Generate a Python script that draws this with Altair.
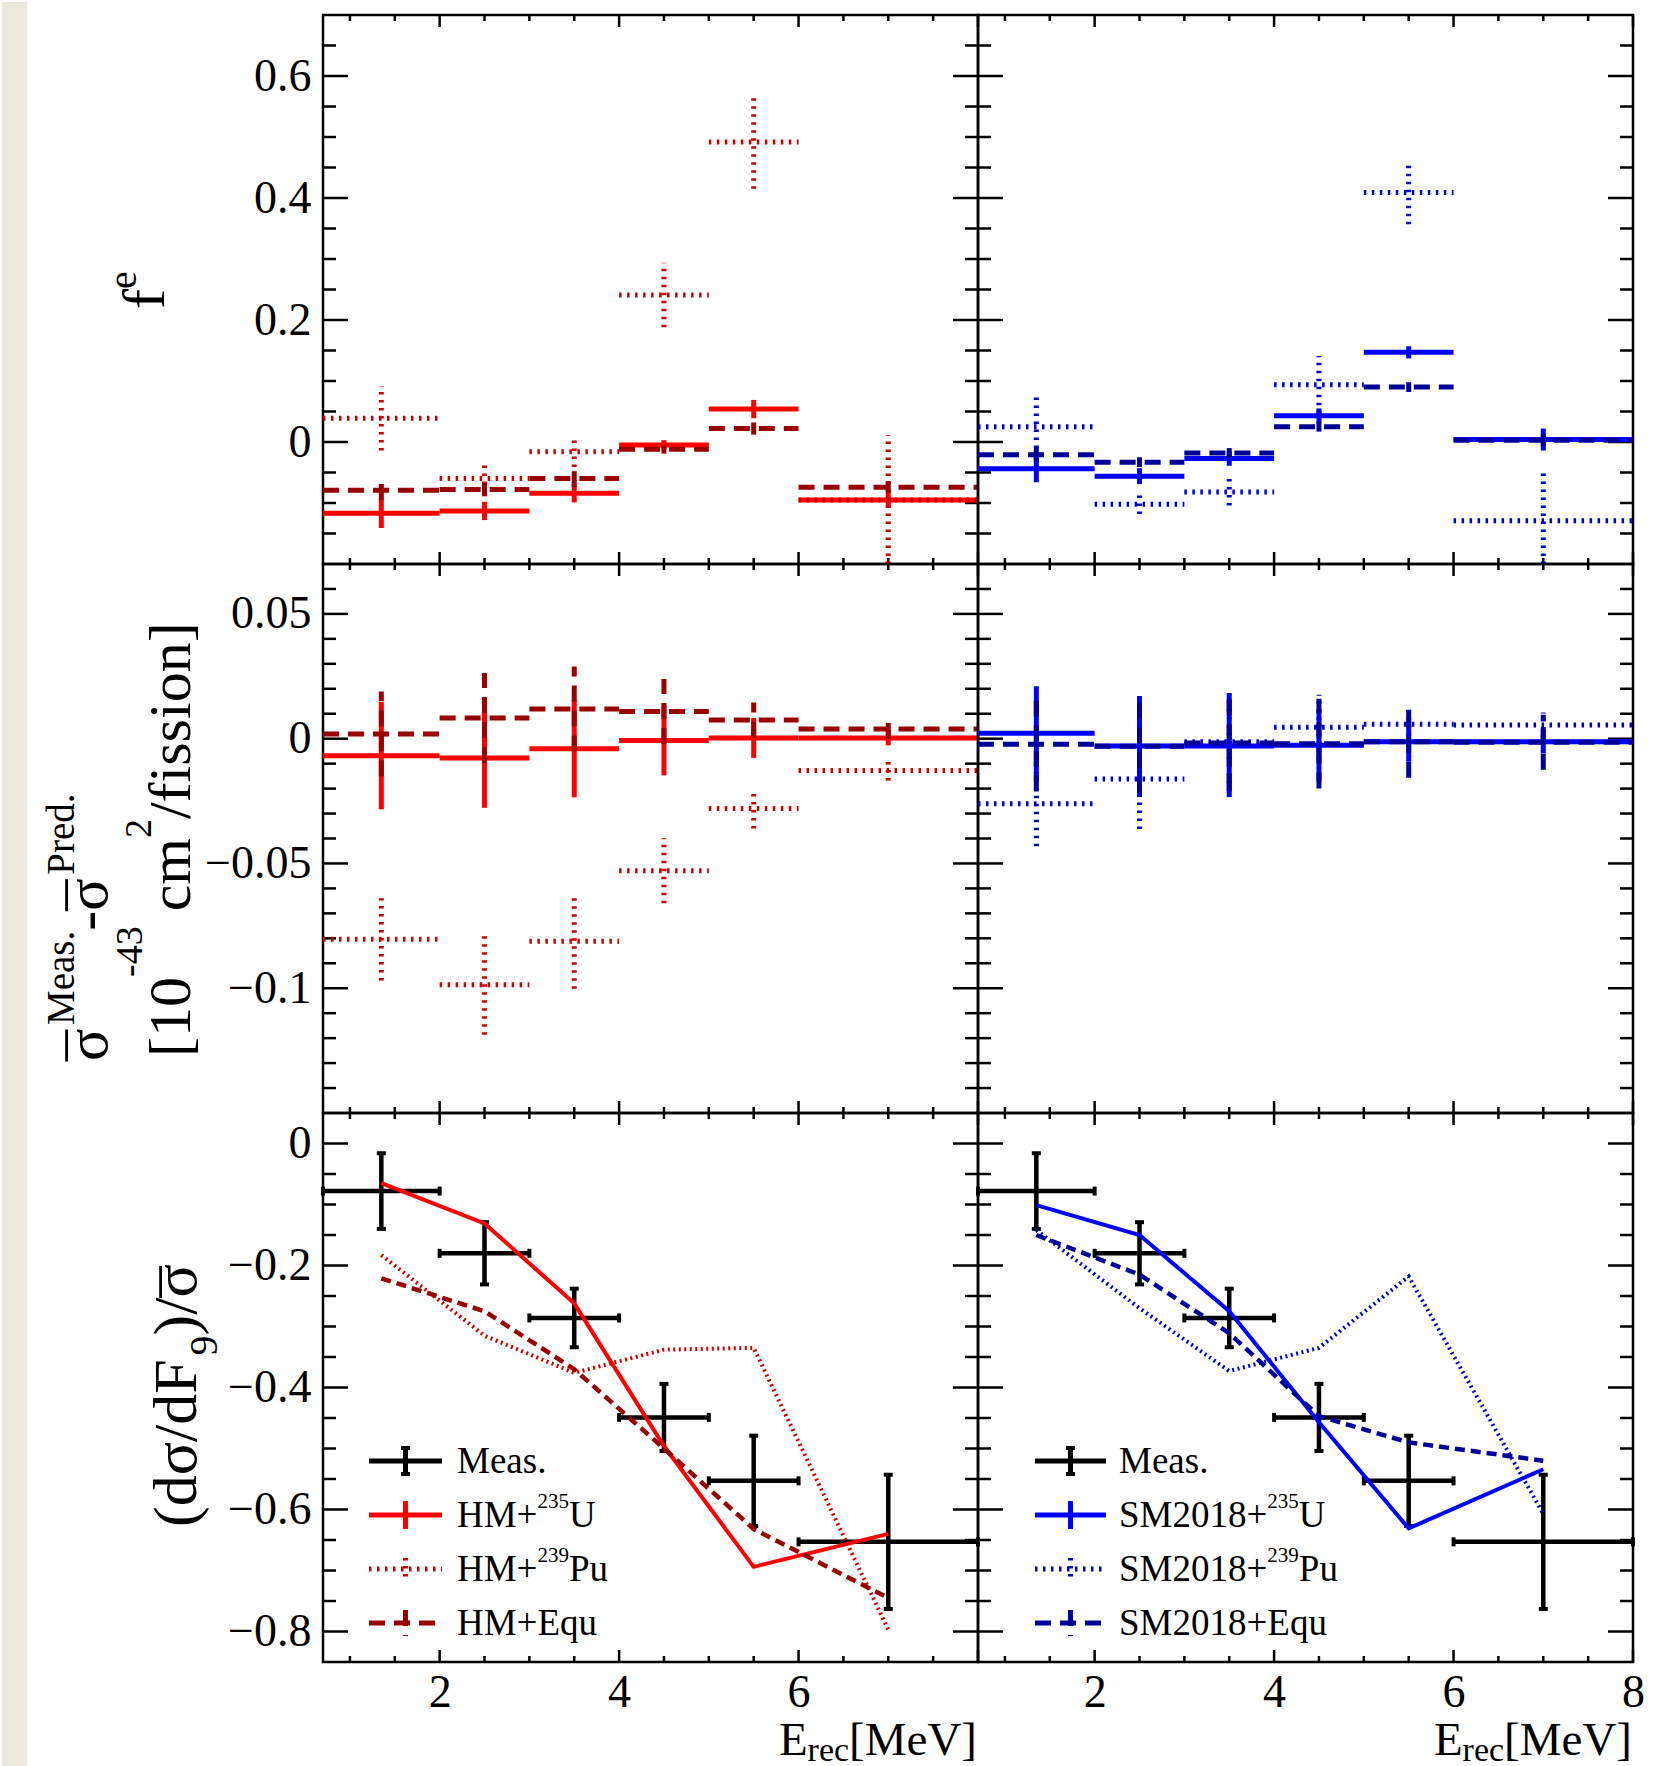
import altair as alt
import pandas as pd

FONT = "Liberation Serif"
W, H = 655, 549

# ---------------- data ----------------
BIN_LO = [0.7, 2.0, 3.0, 4.0, 5.0, 6.0]
BIN_HI = [2.0, 3.0, 4.0, 5.0, 6.0, 8.0]
BIN_C = [1.35, 2.5, 3.5, 4.5, 5.5, 7.0]

# top row: f^e
FE_HM_U = [-0.117, -0.113, -0.084, -0.005, 0.054, -0.095]
FE_HM_U_ERR = [0.024, 0.015, 0.015, 0.008, 0.015, 0.012]
FE_HM_PU = [0.039, -0.060, -0.016, 0.241, 0.492, -0.095]
FE_HM_PU_ERR = [0.053, 0.022, 0.025, 0.053, 0.077, 0.106]
FE_HM_EQU = [-0.079, -0.078, -0.060, -0.012, 0.022, -0.074]
FE_HM_EQU_ERR = [0.016, 0.011, 0.014, 0.007, 0.010, 0.010]

FE_SM_U = [-0.044, -0.056, -0.027, 0.043, 0.147, 0.004]
FE_SM_U_ERR = [0.022, 0.013, 0.012, 0.012, 0.010, 0.018]
FE_SM_PU = [0.025, -0.102, -0.082, 0.094, 0.409, -0.129]
FE_SM_PU_ERR = [0.048, 0.016, 0.022, 0.047, 0.052, 0.081]
FE_SM_EQU = [-0.021, -0.033, -0.018, 0.025, 0.090, 0.003]
FE_SM_EQU_ERR = [0.012, 0.008, 0.008, 0.008, 0.008, 0.010]

# middle row: sigma_meas - sigma_pred
DS_HM_U = [-0.0068, -0.0077, -0.0040, -0.0007, 0.0003, 0.0003]
DS_HM_U_ERR = [0.0215, 0.0200, 0.0195, 0.0140, 0.0080, 0.0030]
DS_HM_PU = [-0.0804, -0.0986, -0.0812, -0.0529, -0.0280, -0.0128]
DS_HM_PU_ERR = [0.0165, 0.0200, 0.0190, 0.0130, 0.0080, 0.0040]
DS_HM_EQU = [0.0019, 0.0083, 0.0119, 0.0109, 0.0075, 0.0039]
DS_HM_EQU_ERR = [0.0170, 0.0180, 0.0170, 0.0130, 0.0070, 0.0040]

DS_SM_U = [0.0022, -0.0029, -0.0029, -0.0026, -0.0012, -0.0012]
DS_SM_U_ERR = [0.0188, 0.0200, 0.0205, 0.0145, 0.0080, 0.0047]
DS_SM_PU = [-0.0261, -0.0162, -0.0012, 0.0046, 0.0058, 0.0055]
DS_SM_PU_ERR = [0.0170, 0.0200, 0.0200, 0.0130, 0.0080, 0.0050]
DS_SM_EQU = [-0.0022, -0.0030, -0.0017, -0.0020, -0.0012, -0.0014]
DS_SM_EQU_ERR = [0.0190, 0.0190, 0.0190, 0.0180, 0.0145, 0.0110]

# bottom row: (dsigma/dF9)/sigma
MEAS = [-0.078, -0.180, -0.286, -0.449, -0.553, -0.653]
MEAS_ERR = [0.062, 0.051, 0.048, 0.055, 0.074, 0.110]
DF_HM_U = [-0.065, -0.131, -0.262, -0.496, -0.694, -0.640]
DF_HM_PU = [-0.183, -0.315, -0.376, -0.338, -0.335, -0.797]
DF_HM_EQU = [-0.221, -0.275, -0.370, -0.500, -0.632, -0.745]
DF_SM_U = [-0.101, -0.150, -0.275, -0.457, -0.631, -0.534]
DF_SM_PU = [-0.142, -0.270, -0.373, -0.335, -0.218, -0.607]
DF_SM_EQU = [-0.150, -0.215, -0.311, -0.447, -0.490, -0.520]

# axes
X_DOMAIN = [0.7, 8.0]
X_MAJOR = [2, 4, 6, 8]
X_MINOR = [1.0, 1.5, 2.5, 3.0, 3.5, 4.5, 5.0, 5.5, 6.5, 7.0, 7.5]

TOP_DOMAIN = [-0.2, 0.7]
TOP_MAJOR = [0.0, 0.2, 0.4, 0.6]
TOP_MINOR = [-0.15, -0.1, -0.05, 0.05, 0.1, 0.15, 0.25, 0.3, 0.35, 0.45, 0.5, 0.55, 0.65]
TOP_LABELS = [0.0, 0.2, 0.4, 0.6]

MID_DOMAIN = [-0.15, 0.07]
MID_MAJOR = [-0.1, -0.05, 0.0, 0.05]
MID_MINOR = [-0.14, -0.13, -0.12, -0.11, -0.09, -0.08, -0.07, -0.06, -0.04, -0.03,
             -0.02, -0.01, 0.01, 0.02, 0.03, 0.04, 0.06]
MID_LABELS = [-0.1, -0.05, 0.0, 0.05]

BOT_DOMAIN = [-0.85, 0.05]
BOT_MAJOR = [-0.8, -0.6, -0.4, -0.2, 0.0]
BOT_MINOR = [-0.75, -0.7, -0.65, -0.55, -0.5, -0.45, -0.35, -0.3, -0.25, -0.15, -0.1, -0.05]
BOT_LABELS = [-0.8, -0.6, -0.4, -0.2, 0.0]

X_LABELS_LEFT = [2, 4, 6]
X_LABELS_RIGHT = [2, 4, 6, 8]

LEG_HM = ["Meas.", "HM+", "HM+", "HM+Equ"]
LEG_SM = ["Meas.", "SM2018+", "SM2018+", "SM2018+Equ"]

# ---------------- styles ----------------
RED = {"U": "#ff0000", "Pu": "#cc0000", "Equ": "#990000"}
BLUE = {"U": "#0000ff", "Pu": "#0000cc", "Equ": "#000099"}
DASH = {"U": None, "Pu": [2.5, 5.5], "Equ": [16, 9]}
LDASH = {"U": None, "Pu": [2, 3.5], "Equ": [10, 6]}

ONE = pd.DataFrame({"k": [0]})

TW = {'[': .333, ']': .333, '(': .333, ')': .333, '-': .333, ' ': .25, '/': .278,
      '.': .25, '+': .564, 'c': .444, 'm': .778, 'f': .333, 'i': .278, 's': .389,
      'o': .5, 'n': .5, 'd': .5, 'F': .556, 'M': .889, 'e': .444, 'a': .444,
      'P': .556, 'r': .333, 'H': .722, 'U': .722, 'u': .5, 'E': .611, 'q': .5,
      'S': .556, 'V': .722, '\u03c3': .6, '\u00af': 0.5}


def tw(s, size):
    return sum(TW.get(ch, 0.5) for ch in s) * size


def text_mark(s, x, y, size, angle=0, align="left", color="black"):
    kw = dict(text=s, font=FONT, fontSize=size, align=align, baseline="alphabetic", color=color)
    if angle:
        kw["angle"] = angle
    return alt.Chart(ONE).mark_text(**kw).encode(x=alt.value(x), y=alt.value(y))


def vchain(pieces, y0):
    """rotated (bottom-to-top) run of text pieces: (text, size, baseline_x[, advance])"""
    out, y = [], y0
    for p in pieces:
        s, size, x = p[:3]
        adv = p[3] if len(p) > 3 else True
        core = s.lstrip(" ")
        lead = tw(s[: len(s) - len(core)], size)
        out.append(text_mark(core, x, y - lead, size, angle=270))
        if adv:
            y -= tw(s, size)
    return out


def hchain(pieces, x0):
    out, x = [], x0
    for s, size, y in pieces:
        out.append(text_mark(s, x, y, size))
        x += tw(s, size)
    return out


def rule_kw(color, dash, width):
    kw = dict(color=color, strokeWidth=width)
    if dash:
        kw["strokeDash"] = dash
    return kw


def crosses(X, Y, vals, errs, color, dash, width=5):
    rows = []
    for lo, hi, c, v, e in zip(BIN_LO, BIN_HI, BIN_C, vals, errs):
        rows.append({"x": lo, "x2": hi, "y": v, "y2": v})
        rows.append({"x": c, "x2": c, "y": v - e, "y2": v + e})
    return alt.Chart(pd.DataFrame(rows)).mark_rule(**rule_kw(color, dash, width)).encode(
        x=X("x"), x2="x2:Q", y=Y("y"), y2="y2:Q")


def curve(X, Y, vals, color, dash, width=4):
    df = pd.DataFrame({"x": BIN_C, "y": vals})
    return alt.Chart(df).mark_line(**rule_kw(color, dash, width)).encode(x=X("x"), y=Y("y"))


def meas_layers(X, Y):
    out = [crosses(X, Y, MEAS, MEAS_ERR, "black", None, 4.5)]
    vc = pd.DataFrame({"x": BIN_C + BIN_C,
                       "y": [v - e for v, e in zip(MEAS, MEAS_ERR)] + [v + e for v, e in zip(MEAS, MEAS_ERR)]})
    hc = pd.DataFrame({"x": BIN_LO + BIN_HI, "y": MEAS + MEAS})
    out.append(alt.Chart(vc).mark_tick(orient="horizontal", size=9, thickness=4, color="black", opacity=1)
               .encode(x=X("x"), y=Y("y")))
    out.append(alt.Chart(hc).mark_tick(orient="vertical", size=9, thickness=4, color="black", opacity=1)
               .encode(x=X("x"), y=Y("y")))
    return out


def panel(ydom, ymaj, ymin, ylabels, xlabels, content, extra):
    xs = alt.Scale(domain=X_DOMAIN, nice=False, zero=False, clamp=True)
    ys = alt.Scale(domain=ydom, nice=False, zero=False, clamp=True)
    common = dict(title=None, ticks=False, tickSize=0, domain=False, grid=False,
                  labelFont=FONT, labelFontSize=46, labelColor="black",
                  labelFlush=False, labelOverlap=False)
    xax = alt.Axis(values=xlabels, format="d", labelPadding=8, **common) if xlabels else None
    yax = alt.Axis(values=ylabels, format="~g", labelPadding=12, **common) if ylabels else None

    def X(f):
        return alt.X(f"{f}:Q", scale=xs, axis=xax)

    def Y(f):
        return alt.Y(f"{f}:Q", scale=ys, axis=yax)

    layers = []
    for vals, ln in ((ymaj, 25), (ymin, 13)):
        base = alt.Chart(pd.DataFrame({"v": vals})).mark_rule(color="black", strokeWidth=2.5)
        layers.append(base.encode(y=Y("v"), x=alt.value(0), x2=alt.value(ln)))
        layers.append(base.encode(y=Y("v"), x=alt.value(W - ln), x2=alt.value(W)))
    for vals, ln in ((X_MAJOR, 12), (X_MINOR, 6)):
        base = alt.Chart(pd.DataFrame({"v": vals})).mark_rule(color="black", strokeWidth=2.5)
        layers.append(base.encode(x=X("v"), y=alt.value(H - ln), y2=alt.value(H)))
        layers.append(base.encode(x=X("v"), y=alt.value(0), y2=alt.value(ln)))
    layers += content(X, Y)
    layers += extra
    return alt.layer(*layers).properties(width=W, height=H)


def err_content(series, colors):
    def f(X, Y):
        out = []
        for key, vals, errs in series:
            out.append(crosses(X, Y, vals, errs, colors[key], DASH[key], 5))
        return out
    return f


def bottom_content(series, colors):
    def f(X, Y):
        out = meas_layers(X, Y)
        for key, vals in series:
            out.append(curve(X, Y, vals, colors[key], LDASH[key], 4.5 if key == "Equ" else 4))
        return out
    return f


def legend(names, colors, x0, x1, xt):
    rows = [348, 402, 456, 510]
    xc = (x0 + x1) / 2
    out = []
    specs = [("meas", "black", None, 13),
             ("U", colors["U"], DASH["U"], 14),
             ("Pu", colors["Pu"], DASH["Pu"], 11),
             ("Equ", colors["Equ"], DASH["Equ"], 13)]
    for (kind, col, dash, vh), y, name in zip(specs, rows, names):
        kw = rule_kw(col, dash, 5)
        out.append(alt.Chart(ONE).mark_rule(**kw).encode(
            x=alt.value(x0), x2=alt.value(x1), y=alt.value(y)))
        out.append(alt.Chart(ONE).mark_rule(**kw).encode(
            x=alt.value(xc), y=alt.value(y - vh), y2=alt.value(y + vh)))
        if kind == "meas":
            for yy in (y - vh, y + vh):
                out.append(alt.Chart(ONE).mark_tick(orient="horizontal", size=9, thickness=4,
                                                    color="black", opacity=1)
                           .encode(x=alt.value(xc), y=alt.value(yy)))
        if kind == "U":
            pieces = [(name, 37, y + 12), ("235", 21, y - 7), ("U", 37, y + 12)]
        elif kind == "Pu":
            pieces = [(name, 37, y + 12), ("239", 21, y - 7), ("Pu", 37, y + 12)]
        else:
            pieces = [(name, 37, y + 12)]
        out += hchain(pieces, xt)
    return out


def xtitle():
    pieces = [("E", 47, H + 93), ("rec", 34, H + 99), ("[MeV]", 47, H + 93)]
    total = sum(tw(s, sz) for s, sz, _ in pieces)
    return hchain(pieces, W - 1 - total)


SIG = "\u03c3"
BAR = "\u00af"

title_top = vchain([("f", 60, -159), ("e", 40, -187)], 294)
title_mid = (vchain([(BAR, 62, -211, False), (SIG, 60, -216), ("Meas.", 39, -249), ("-", 60, -216),
                     (BAR, 62, -211, False), (SIG, 60, -216), ("Pred.", 39, -249)], 497)
             + vchain([("[10", 60, -133), ("-43", 38, -181), (" cm", 60, -133),
                       ("2", 38, -172), ("/fission]", 60, -133)], 493))
title_bot = vchain([("(d\u03c3/dF", 62, -127), ("9", 40, -106), (")/", 62, -127),
                    (BAR, 62, -117, False), (SIG, 62, -127)], 414)

strip = [alt.Chart(ONE).mark_rect(color="#ece9e0").encode(
    x=alt.value(-321), x2=alt.value(-296), y=alt.value(-(2 * H + 13)), y2=alt.value(H + 106))]

tl = panel(TOP_DOMAIN, TOP_MAJOR, TOP_MINOR, TOP_LABELS, None,
           err_content([("U", FE_HM_U, FE_HM_U_ERR), ("Pu", FE_HM_PU, FE_HM_PU_ERR),
                        ("Equ", FE_HM_EQU, FE_HM_EQU_ERR)], RED), title_top)
tr = panel(TOP_DOMAIN, TOP_MAJOR, TOP_MINOR, None, None,
           err_content([("U", FE_SM_U, FE_SM_U_ERR), ("Pu", FE_SM_PU, FE_SM_PU_ERR),
                        ("Equ", FE_SM_EQU, FE_SM_EQU_ERR)], BLUE), [])
ml = panel(MID_DOMAIN, MID_MAJOR, MID_MINOR, MID_LABELS, None,
           err_content([("U", DS_HM_U, DS_HM_U_ERR), ("Pu", DS_HM_PU, DS_HM_PU_ERR),
                        ("Equ", DS_HM_EQU, DS_HM_EQU_ERR)], RED), title_mid)
mr = panel(MID_DOMAIN, MID_MAJOR, MID_MINOR, None, None,
           err_content([("U", DS_SM_U, DS_SM_U_ERR), ("Pu", DS_SM_PU, DS_SM_PU_ERR),
                        ("Equ", DS_SM_EQU, DS_SM_EQU_ERR)], BLUE), [])
bl = panel(BOT_DOMAIN, BOT_MAJOR, BOT_MINOR, BOT_LABELS, X_LABELS_LEFT,
           bottom_content([("U", DF_HM_U), ("Pu", DF_HM_PU), ("Equ", DF_HM_EQU)], RED),
           strip + title_bot + legend(LEG_HM, RED, 46, 119, 134) + xtitle())
br = panel(BOT_DOMAIN, BOT_MAJOR, BOT_MINOR, None, X_LABELS_RIGHT,
           bottom_content([("U", DF_SM_U), ("Pu", DF_SM_PU), ("Equ", DF_SM_EQU)], BLUE),
           legend(LEG_SM, BLUE, 57, 128, 141) + xtitle())

chart = alt.concat(tl, tr, ml, mr, bl, br, columns=2, spacing=0, bounds="flush").properties(
    padding=0
).configure(
    background="white",
    font=FONT,
    view=alt.ViewConfig(stroke="black", strokeWidth=2.5),
)

chart.save("out.html", embed_options={"renderer": "svg", "actions": False})
